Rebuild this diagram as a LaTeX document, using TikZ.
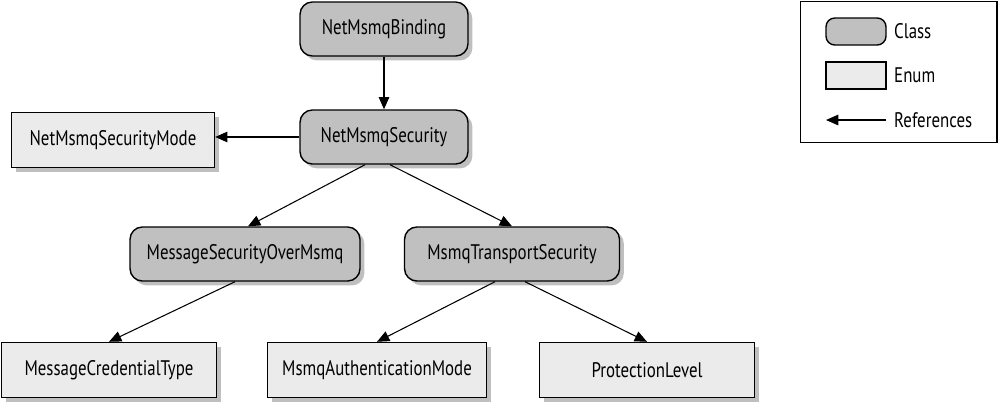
\documentclass[tikz,border=0pt]{standalone}
\usepackage{fontspec}
\setmainfont[FakeStretch=0.8]{PT Sans}
\usepackage{tikz}
\usetikzlibrary{arrows.meta,shadows}
\definecolor{clsgray}{RGB}{192,192,192}
\definecolor{enumgray}{RGB}{235,235,235}

\begin{document}
\begin{tikzpicture}[x=0.02cm, y=-0.02cm,
    cls/.style={draw, thick, rounded corners=7pt, fill=clsgray, minimum width=3.36cm,
                minimum height=1.08cm, font=\large,
                drop shadow={shadow xshift=2.5pt, shadow yshift=-2.5pt, opacity=0.5}},
    enm/.style={draw, thick, fill=enumgray, minimum width=4.3cm,
                minimum height=1.1cm, font=\large,
                drop shadow={shadow xshift=2.5pt, shadow yshift=-2.5pt, opacity=0.5}},
    arr/.style={-{Triangle[length=7pt, width=6pt]}, semithick}
  ]
    \useasboundingbox (0,0) rectangle (1000,413);
    % Classes
    \node[cls] (binding) at (384,29) {NetMsmqBinding};
    \node[cls] (security) at (384,137) {NetMsmqSecurity};
    \node[cls, minimum width=4.6cm] (msgsec) at (245,254) {MessageSecurityOverMsmq};
    \node[cls, minimum width=4.3cm] (transsec) at (512,254) {MsmqTransportSecurity};
    % Enums
    \node[enm, minimum width=4.06cm] (mode) at (113,140) {NetMsmqSecurityMode};
    \node[enm] (credtype) at (109,370) {MessageCredentialType};
    \node[enm, minimum width=4.38cm] (authmode) at (377,370) {MsmqAuthenticationMode};
    \node[enm] (protlevel) at (647,370) {ProtectionLevel};
    % References
    \draw[arr] (binding) -- (security);
    \draw[arr] (security.west) -- (mode.east |- security.west);
    \draw[arr] ([xshift=-0.38cm]security.south) -- ([xshift=0.06cm]msgsec.north);
    \draw[arr] ([xshift=0.12cm]security.south) -- (transsec.north);
    \draw[arr] ([xshift=-0.2cm]msgsec.south) -- (credtype.north);
    \draw[arr] ([xshift=-0.34cm]transsec.south) -- (authmode.north);
    \draw[arr] ([xshift=0.26cm]transsec.south) -- (protlevel.north);
    % Legend
    \node[draw, semithick, minimum width=3.94cm, minimum height=2.82cm] (legend) at (898.5,72) {};
    \node[draw, thick, rounded corners=5pt, fill=clsgray, minimum width=1.2cm,
          minimum height=0.54cm] (lcls) at (856,31.5) {};
    \node[draw, thick, fill=enumgray, minimum width=1.2cm,
          minimum height=0.54cm] (lenm) at (856,75.5) {};
    \coordinate (lfrom) at (886,120);
    \coordinate (lto) at (826,120);
    \node[font=\large, anchor=west] (tcls) at (888,31.5) {Class};
    \node[font=\large, anchor=west] (tenm) at (888,75.5) {Enum};
    \node[font=\large, anchor=west] (tref) at (888,120) {References};
    \draw[arr] (lfrom) -- (lto);
\end{tikzpicture}
\end{document}
